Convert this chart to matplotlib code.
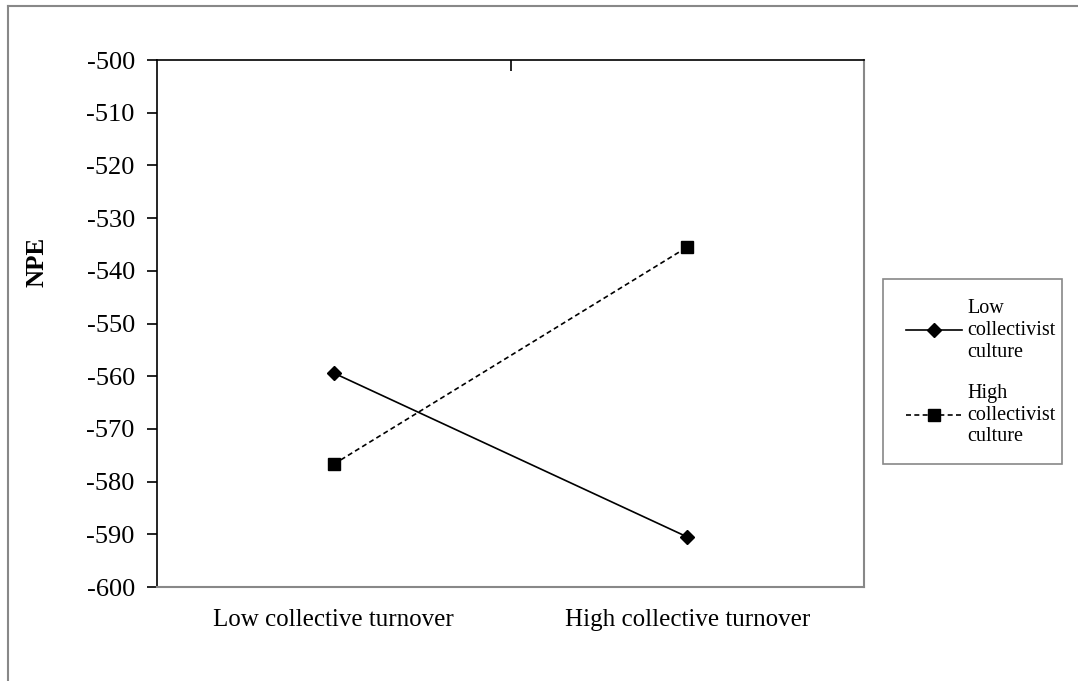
import matplotlib
matplotlib.use('Agg')
import matplotlib.pyplot as plt
from matplotlib.ticker import FixedLocator
from matplotlib.lines import Line2D
from matplotlib.patches import Rectangle

plt.rcParams['font.family'] = ['Liberation Serif', 'DejaVu Serif']

categories = ['Low collective turnover', 'High collective turnover']
low_cc = [-559.4, -590.5]
high_cc = [-576.7, -535.5]
series_labels = ['Low\ncollectivist\nculture', 'High\ncollectivist\nculture']
yticks = [-600, -590, -580, -570, -560, -550, -540, -530, -520, -510, -500]

fig = plt.figure(figsize=(10.78, 6.81), dpi=100)

# outer chart border (only left and top visible)
fig.add_artist(Line2D([8/1078, 8/1078], [0, 1 - 6/681], color='#888888', lw=1.5))
fig.add_artist(Line2D([8/1078, 1], [1 - 6/681, 1 - 6/681], color='#888888', lw=1.5))

ax = fig.add_axes([157/1078, 94/681, 707/1078, 527/681])
x = [0, 1]
ax.plot(x, low_cc, color='black', lw=1.2, marker='D', markersize=7, label=series_labels[0])
ax.plot(x, high_cc, color='black', lw=1.2, ls=(0, (3, 2)), marker='s', markersize=8.5, label=series_labels[1])

ax.set_xlim(-0.5, 1.5)
ax.set_ylim(-600, -500)
ax.set_yticks(yticks)
ax.set_yticklabels([str(v) for v in yticks], fontsize=19)
ax.set_xticks(x)
ax.set_xticklabels(categories, fontsize=18)
ax.xaxis.set_minor_locator(FixedLocator([0.5]))
ax.tick_params(axis='x', which='major', length=0, pad=16, bottom=True, top=False)
ax.tick_params(axis='x', which='minor', top=True, bottom=False, direction='in', length=8, width=1.2)
ax.tick_params(axis='y', direction='out', length=7, width=1.2, pad=9)
ax.set_ylabel('NPE', fontsize=18, fontweight='bold')
ax.yaxis.set_label_coords(-0.153, 0.617)

for s in ['left', 'top']:
    ax.spines[s].set_color('black')
    ax.spines[s].set_linewidth(1.2)
for s in ['right', 'bottom']:
    ax.spines[s].set_color('#888888')
    ax.spines[s].set_linewidth(1.5)

# legend box drawn separately so its width matches the original
fig.add_artist(Rectangle((883/1078, 1 - 464/681), 179/1078, 185/681, transform=fig.transFigure,
                         facecolor='white', edgecolor='#888888', lw=1.2))
leg = fig.legend(loc='upper left', bbox_to_anchor=(886/1078, 1 - 279/681), borderaxespad=0,
                 fontsize=14.5, handlelength=2.75, handletextpad=0.3, borderpad=1.0,
                 labelspacing=1.1, frameon=False)

fig.savefig('out.png', dpi=100)
